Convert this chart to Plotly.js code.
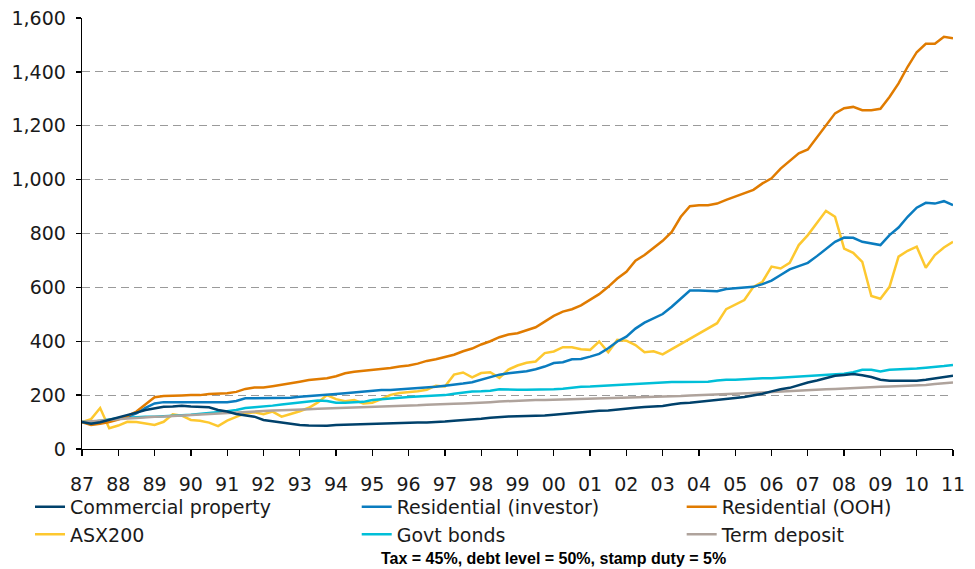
<!DOCTYPE html>
<html>
<head>
<meta charset="utf-8">
<script src="https://cdn.plot.ly/plotly-3.0.1.min.js"></script>
<style>
  html, body { margin: 0; padding: 0; background: #ffffff; }
  #chart { width: 975px; height: 569px; }
</style>
</head>
<body>
<div id="chart"></div>
<script>
// Year tick positions and labels
var tickYears = [1987,1988,1989,1990,1991,1992,1993,1994,1995,1996,1997,1998,1999,2000,2001,2002,2003,2004,2005,2006,2007,2008,2009,2010,2011];
var tickLabels = ['87','88','89','90','91','92','93','94','95','96','97','98','99','00','01','02','03','04','05','06','07','08','09','10','11'];

// Quarterly observations, 1987 Q1 .. 2011 Q1 (97 points)
var commercialProperty = [
  100, 94, 99, 108,  115, 124, 135, 145,  152, 157, 158, 161,  158, 157, 155, 145,
  139, 130, 125, 120,  108, 103, 98, 93,  89, 87, 86, 86,  89, 90, 93, 94,
  94, 95, 96, 98,  98, 98, 98, 99,  102, 105, 107, 110,  112, 116, 119, 121,
  122, 122, 122, 124,  127, 130, 133, 136,  140, 142, 143, 147,  151, 153, 156, 158,
  160, 165, 170, 172,  175, 179, 183, 186,  189, 193, 198, 205,  214, 222, 227, 238,
  247, 254, 263, 272,  275, 278, 274, 267,  257, 253, 253, 253,  253, 257, 262, 267,
  272
];
var residentialInvestor = [
  100, 98, 101, 108,  114, 120, 132, 153,  169, 174, 174, 174,  174, 174, 174, 174,
  174, 178, 188, 188,  188, 188, 188, 190,  194, 196, 198, 200,  204, 207, 210, 213,
  217, 219, 219, 221,  224, 225, 227, 231,  235, 238, 243, 248,  258, 268, 276, 281,
  285, 289, 296, 306,  319, 322, 333, 334,  343, 353, 374, 399,  417, 447, 469, 485,
  501, 528, 559, 588,  588, 586, 586, 594,  596, 600, 602, 612,  625, 646, 667, 679,
  691, 716, 744, 769,  785, 784, 769, 763,  757, 794, 822, 862,  896, 914, 911, 920,
  905
];
var residentialOOH = [
  100, 89, 94, 100,  109, 122, 139, 166,  192, 197, 197, 199,  200, 200, 204, 205,
  207, 212, 223, 228,  228, 233, 238, 244,  250, 256, 260, 263,  270, 281, 287, 290,
  295, 298, 301, 306,  310, 317, 327, 333,  342, 350, 363, 373,  388, 400, 415, 425,
  430, 440, 452, 473,  494, 510, 519, 533,  553, 575, 602, 633,  658, 699, 720, 748,
  773, 806, 862, 901,  905, 905, 911, 925,  938, 949, 962, 986,  1005, 1041, 1069, 1098,
  1112, 1156, 1199, 1246,  1265, 1270, 1258, 1258,  1263, 1307, 1357, 1419,  1473, 1504, 1504, 1530,
  1525
];
var asx200 = [
  100, 111, 152, 77,  87, 101, 100, 95,  89, 101, 129, 124,  108, 105, 98, 85,
  105, 119, 132, 136,  129, 139, 120, 130,  140, 153, 173, 200,  185, 177, 182, 169,
  172, 185, 201, 208,  211, 214, 220, 235,  232, 276, 284, 266,  282, 285, 264, 295,
  310, 320, 325, 356,  362, 378, 378, 370,  368, 399, 359, 405,  402, 386, 359, 363,
  351, 370, 390, 411,  430, 448, 467, 519,  535, 553, 602, 621,  677, 670, 691, 757,
  794, 837, 884, 862,  744, 728, 695, 568,  558, 602, 714, 736,  751, 673, 720, 748,
  769
];
var govtBonds = [
  100, 100, 105, 110,  114, 116, 119, 120,  120, 121, 124, 125,  127, 130, 132, 135,
  140, 145, 152, 155,  157, 161, 165, 169,  173, 177, 180, 178,  172, 172, 173, 175,
  182, 184, 187, 190,  193, 195, 197, 198,  200, 205, 210, 213,  214, 216, 222, 220,
  220, 220, 220, 221,  222, 224, 228, 231,  232, 234, 235, 238,  241, 242, 244, 247,
  249, 249, 249, 249,  249, 250, 254, 257,  257, 259, 262, 263,  263, 265, 267, 269,
  272, 273, 274, 276,  279, 285, 294, 294,  288, 294, 295, 296,  299, 302, 304, 308,
  312
];
var termDeposit = [
  100, 103, 106, 108,  111, 113, 115, 118,  120, 121, 123, 124,  125, 128, 130, 133,
  135, 137, 138, 140,  141, 143, 144, 146,  147, 148, 149, 150,  151, 152, 153, 154,
  155, 156, 158, 159,  160, 162, 164, 166,  167, 168, 169, 170,  171, 174, 176, 178,
  180, 181, 182, 182,  183, 184, 184, 185,  185, 187, 188, 189,  190, 191, 193, 194,
  195, 196, 197, 199,  200, 201, 202, 204,  205, 207, 208, 210,  212, 214, 216, 218,
  220, 221, 222, 223,  225, 226, 228, 230,  231, 232, 233, 234,  235, 238, 241, 244,
  247
];
var seriesNames = ['Commercial property','Residential (investor)','Residential (OOH)','ASX200','Govt bonds','Term deposit'];
var subtitle = 'Tax = 45%, debt level = 50%, stamp duty = 5%';

// quarter positions (category axis)
var quarters = [];
for (var y = 0; y < tickYears.length - 1; y++) {
  for (var q = 0; q < 4; q++) quarters.push(tickYears[y] + q / 4);
}
quarters.push(tickYears[tickYears.length - 1]);

function line(name, vals, color, legend, rank) {
  return {
    type: 'scatter', mode: 'lines', name: name, x: quarters, y: vals,
    line: {color: color, width: 2.5, shape: 'linear'},
    legend: legend, legendrank: rank, hoverinfo: 'skip'
  };
}

var traces = [
  line(seriesNames[3], asx200, '#FDC82F', 'legend', 2),
  line(seriesNames[4], govtBonds, '#00BFD8', 'legend2', 2),
  line(seriesNames[1], residentialInvestor, '#0A7CBF', 'legend2', 1),
  line(seriesNames[2], residentialOOH, '#E07B00', 'legend3', 1),
  line(seriesNames[5], termDeposit, '#AFA39C', 'legend3', 2),
  line(seriesNames[0], commercialProperty, '#00416B', 'legend', 1)
];

var tickFont = {family: 'DejaVu Sans, Verdana, sans-serif', size: 19, color: '#1a1a1a'};
function legendAt(x) {
  return {
    x: x, y: -0.090, xanchor: 'left', yanchor: 'top', orientation: 'v',
    font: tickFont, bgcolor: 'rgba(0,0,0,0)', borderwidth: 0,
    itemclick: false, itemdoubleclick: false
  };
}

var layout = {
  width: 975, height: 569,
  margin: {l: 82, r: 22, t: 18, b: 120, pad: 0},
  paper_bgcolor: '#ffffff', plot_bgcolor: '#ffffff',
  showlegend: true,
  font: tickFont,
  xaxis: {
    range: [tickYears[0], tickYears[tickYears.length - 1]],
    tickmode: 'array', tickvals: tickYears, ticktext: tickLabels,
    ticks: 'outside', ticklen: 6, tickwidth: 1.3, tickcolor: '#000',
    showline: true, linecolor: '#000', linewidth: 1.3,
    showgrid: false, zeroline: false, tickfont: tickFont,
    ticklabelstandoff: 12, fixedrange: true
  },
  yaxis: {
    range: [0, 1600], dtick: 200, tick0: 0, tickformat: ',d',
    ticks: 'outside', ticklen: 5, tickwidth: 1.3, tickcolor: '#000',
    showline: true, linecolor: '#000', linewidth: 1.3,
    showgrid: true, gridcolor: '#9a9a9a', gridwidth: 1, griddash: '8px,5px',
    zeroline: false, tickfont: tickFont, ticklabelstandoff: 6, fixedrange: true
  },
  legend: legendAt(-0.0597),
  legend2: legendAt(0.3154),
  legend3: legendAt(0.6885),
  annotations: [{
    text: '<b>' + subtitle + '</b>', xref: 'paper', yref: 'paper',
    x: 0.5408, y: -0.2552, xanchor: 'center', yanchor: 'middle', showarrow: false,
    font: {family: 'Liberation Sans, Arial, sans-serif', size: 16, color: '#000'}
  }]
};

Plotly.newPlot('chart', traces, layout, {displayModeBar: false, staticPlot: true});
</script>
</body>
</html>
